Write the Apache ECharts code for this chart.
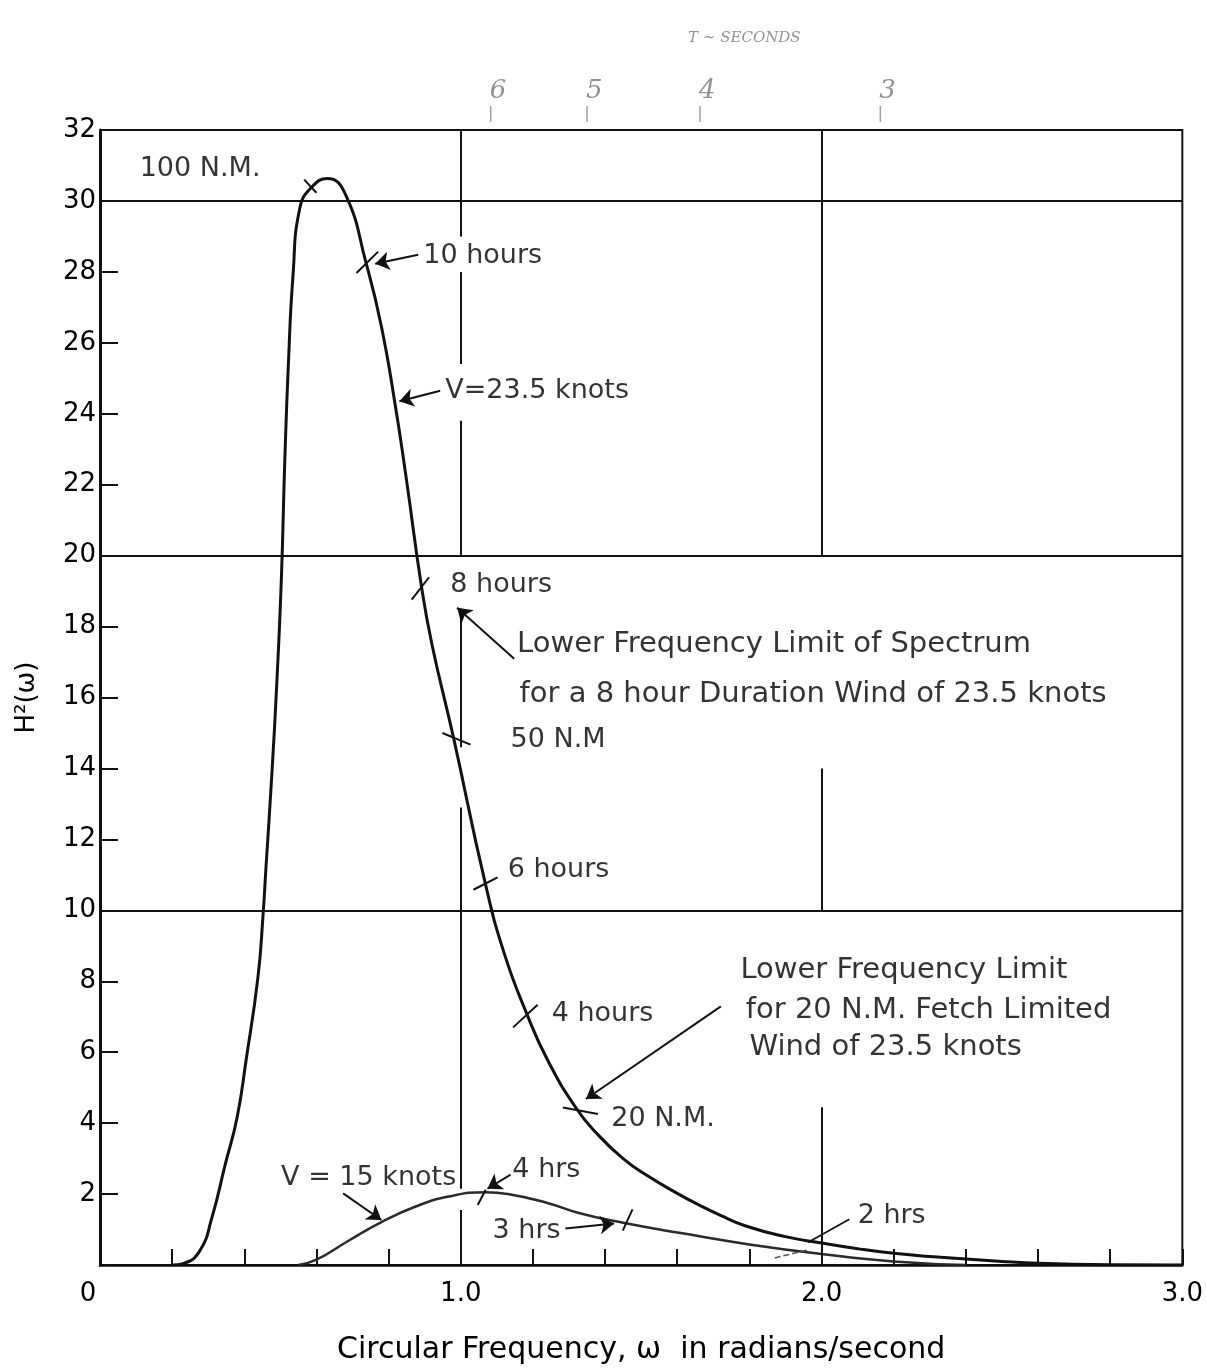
<!DOCTYPE html>
<html><head><meta charset="utf-8">
<script src="https://cdn.jsdelivr.net/npm/echarts@6/dist/echarts.min.js"></script>
<style>html,body{margin:0;padding:0;background:#fff}#c{width:1206px;height:1370px}</style>
</head><body><div id="c"></div>
<script>
// ---- data (omega in rad/s, H^2 values) ----
const bigOmega = [0.20, 0.23, 0.276, 0.31, 0.347, 0.38, 0.405, 0.438, 0.452, 0.46, 0.476, 0.491, 0.503, 0.512, 0.523, 0.535, 0.554, 0.588, 0.63, 0.68, 0.738, 0.78, 0.819, 0.85, 0.89, 0.92, 0.98, 1.067, 1.12, 1.183, 1.243, 1.32, 1.376, 1.45, 1.52, 1.60, 1.655, 1.72, 1.79, 1.90, 2.00, 2.10, 2.20, 2.30, 2.40, 2.50, 2.60, 2.80, 3.00];
const bigH     = [0, 0.04, 0.39, 1.33, 2.83, 4.16, 5.78, 8.13, 9.88, 11.2, 13.78, 16.6, 19.43, 22.6, 25.6, 27.9, 29.8, 30.4, 30.63, 30.19, 28.23, 26.46, 24.2, 22.1, 19.2, 17.5, 14.86, 10.8, 8.8, 7.08, 5.73, 4.42, 3.72, 3.0, 2.5, 2.02, 1.72, 1.4, 1.1, 0.8, 0.62, 0.46, 0.33, 0.24, 0.17, 0.1, 0.05, 0.01, 0];
const smallOmega = [0.55, 0.60, 0.69, 0.78, 0.875, 0.966, 1.07, 1.13, 1.24, 1.33, 1.45, 1.61, 1.80, 2.00, 2.20, 2.40];
const smallH     = [0, 0.15, 0.69, 1.21, 1.65, 1.93, 2.05, 2.0, 1.75, 1.46, 1.19, 0.9, 0.58, 0.31, 0.1, 0];

const xTickText = {0: '0', 1: '1.0', 2: '2.0', 3: '3.0'};
const hGridLevels = [10, 20, 30];
// [omega, H from, H to]
const vGridSegments = [[1.0, 32, 29.0], [1.0, 28.0, 25.4], [1.0, 23.8, 20], [1.0, 18.5, 14.6], [1.0, 12.9, 2.15], [1.0, 1.55, 0],
                       [2.0, 32, 20], [2.0, 14.0, 10], [2.0, 4.45, 0]];

// wave period (seconds) marks on top
const periodOmega = [1.083, 1.35, 1.663, 2.163];
const periodLabels = ['6', '5', '4', '3'];
const periodTitle = 'T ~ SECONDS';

// annotation texts: [text, omega, H]
const annoText  = ['100 N.M.', '10 hours', 'V=23.5 knots', '8 hours', 'Lower Frequency Limit of Spectrum', 'for a 8 hour Duration Wind of 23.5 knots', '50 N.M', '6 hours', '4 hours', 'Lower Frequency Limit', 'for 20 N.M. Fetch Limited', 'Wind of 23.5 knots', '20 N.M.', 'V = 15 knots', '4 hrs', '3 hrs', '2 hrs'];
const annoOmega = [0.11, 0.896, 0.957, 0.971, 1.156, 1.163, 1.138, 1.13, 1.252, 1.775, 1.79, 1.80, 1.417, 0.502, 1.143, 1.088, 2.10];
const annoH     = [30.9, 28.45, 24.63, 19.18, 17.49, 16.08, 14.8, 11.13, 7.09, 8.29, 7.19, 6.12, 4.13, 2.44, 2.69, 0.96, 1.37];
const annoLong  = [4, 5, 9, 10, 11];

// arrows: [omega tail, H tail, omega head, H head]
const arrows = [[0.882, 28.48, 0.763, 28.23], [0.943, 24.65, 0.83, 24.35], [1.148, 17.09, 0.99, 18.53],
                [1.721, 7.29, 1.347, 4.68], [0.674, 2.02, 0.78, 1.27], [1.138, 2.55, 1.074, 2.15], [1.29, 1.03, 1.425, 1.17]];
// plain leader lines
const leaders = [[2.077, 1.29, 1.963, 0.64]];
// small cross marks on the curves
const crossMarks = [[0.566, 30.6, 0.60, 30.23], [0.711, 27.97, 0.771, 28.57], [0.864, 18.76, 0.912, 19.39], [0.949, 15.0, 1.027, 14.67],
                    [1.035, 10.58, 1.102, 10.93], [1.145, 6.7, 1.213, 7.34], [1.283, 4.44, 1.38, 4.26], [1.047, 1.69, 1.069, 2.12], [1.449, 0.97, 1.476, 1.57]];
const dashedMarks = [[1.87, 0.2, 1.96, 0.42]];

const FONT = 'DejaVu Sans';
const INK = '#111111';

function seg(a) { return [{coord: [a[0], a[1]]}, {coord: [a[2], a[3]]}]; }

const chart = echarts.init(document.getElementById('c'), null, {renderer: 'canvas'});
chart.setOption({
  backgroundColor: '#ffffff',
  animation: false,
  grid: {left: 100, right: 14, top: 130, bottom: 102, show: true, borderColor: INK, borderWidth: 2, backgroundColor: 'transparent'},
  xAxis: {
    type: 'value', min: 0, max: 3, interval: 0.2,
    axisLine: {lineStyle: {color: INK, width: 2.5}},
    axisTick: {inside: true, length: 16, lineStyle: {color: INK, width: 2}},
    splitLine: {show: false},
    axisLabel: {
      color: '#000', fontSize: 26, fontFamily: FONT, margin: 16,
      formatter: function (v) {
        const r = Math.round(v);
        if (Math.abs(v - r) > 1e-6) return '';
        return r === 0 ? '{o|0}' : xTickText[r];
      },
      rich: {o: {fontSize: 26, fontFamily: FONT, color: '#000', padding: [0, 24, 0, 0]}}
    },
    name: 'Circular Frequency, ω  in radians/second', nameLocation: 'middle', nameGap: 70,
    nameTextStyle: {color: '#000', fontSize: 30, fontFamily: FONT}
  },
  yAxis: {
    type: 'value', min: 0, max: 32, interval: 2,
    axisLine: {lineStyle: {color: INK, width: 3}},
    axisTick: {inside: true, length: 18, lineStyle: {color: INK, width: 2}},
    splitLine: {show: false},
    axisLabel: {color: '#000', fontSize: 26, fontFamily: FONT, margin: 4, formatter: v => v === 0 ? '' : String(v)},
    name: 'H²(ω)', nameLocation: 'middle', nameGap: 60, nameRotate: 90,
    nameTextStyle: {color: '#000', fontSize: 26, fontFamily: FONT}
  },
  series: [
    {
      name: 'grid lines', type: 'line', data: [[0, 0]], symbol: 'none', lineStyle: {opacity: 0}, silent: true, z: 1,
      markLine: {
        silent: true, symbol: ['none', 'none'], label: {show: false}, animation: false,
        lineStyle: {color: INK, width: 2, type: 'solid'},
        data: hGridLevels.map(v => seg([0, v, 3, v])).concat(vGridSegments.map(s => seg([s[0], s[1], s[0], s[2]])))
      }
    },
    {
      name: 'V=23.5 knots', type: 'line', data: bigOmega.map((w, i) => [w, bigH[i]]),
      smooth: 0.5, symbol: 'none', z: 3,
      lineStyle: {color: INK, width: 3}
    },
    {
      name: 'V=15 knots', type: 'line', data: smallOmega.map((w, i) => [w, smallH[i]]),
      smooth: 0.5, symbol: 'none', z: 3,
      lineStyle: {color: '#2a2a2a', width: 2.5}
    },
    {
      name: 'marks', type: 'line', data: [[0, 0]], symbol: 'none', lineStyle: {opacity: 0}, silent: true, z: 4,
      markLine: {
        silent: true, animation: false, label: {show: false}, symbol: ['none', 'none'],
        lineStyle: {color: INK, width: 2, type: 'solid'},
        data: crossMarks.map(seg)
          .concat(leaders.map(a => { const s = seg(a); s[0].lineStyle = {width: 1.8}; return s; }))
          .concat(dashedMarks.map(a => { const s = seg(a); s[0].lineStyle = {type: 'dashed', width: 1.5, color: '#555'}; return s; }))
      }
    },
    {
      name: 'arrows', type: 'line', data: [[0, 0]], symbol: 'none', lineStyle: {opacity: 0}, silent: true, z: 4,
      markLine: {
        silent: true, animation: false, label: {show: false},
        symbol: ['none', 'arrow'], symbolSize: 14,
        itemStyle: {color: '#555'},
        lineStyle: {color: INK, width: 2, type: 'solid'},
        data: arrows.map(seg)
      }
    },
    {
      name: 'annotations', type: 'scatter', clip: false, silent: true, z: 5,
      symbolSize: 0, itemStyle: {color: 'rgba(0,0,0,0)'},
      data: annoText.map((t, i) => ({
        name: t, value: [annoOmega[i], annoH[i]],
        label: annoLong.indexOf(i) >= 0 ? {fontSize: 29} : undefined
      })),
      label: {show: true, position: 'right', distance: 0, formatter: p => p.name, color: '#000', fontSize: 27, fontFamily: FONT}
    },
    {
      name: 'period ticks', type: 'scatter', clip: false, silent: true, z: 5,
      symbol: 'rect', symbolSize: [1.5, 16], itemStyle: {color: '#888'},
      data: periodOmega.map(w => [w, 32.45])
    },
    {
      name: 'period labels', type: 'scatter', clip: false, silent: true, z: 5,
      symbolSize: 0, itemStyle: {color: 'rgba(0,0,0,0)'},
      data: periodOmega.map((w, i) => ({name: periodLabels[i], value: [w + 0.02, 33.1]})),
      label: {show: true, position: 'inside', formatter: p => p.name, color: '#777', fontSize: 26, fontStyle: 'italic', fontFamily: 'DejaVu Serif'}
    },
    {
      name: 'period title', type: 'scatter', clip: false, silent: true, z: 5,
      symbolSize: 0, itemStyle: {color: 'rgba(0,0,0,0)'},
      data: [{name: periodTitle, value: [1.63, 34.6]}],
      label: {show: true, position: 'right', distance: 0, formatter: p => p.name, color: '#777', fontSize: 15, fontStyle: 'italic', fontFamily: 'DejaVu Serif'}
    }
  ]
});
</script>
</body></html>
